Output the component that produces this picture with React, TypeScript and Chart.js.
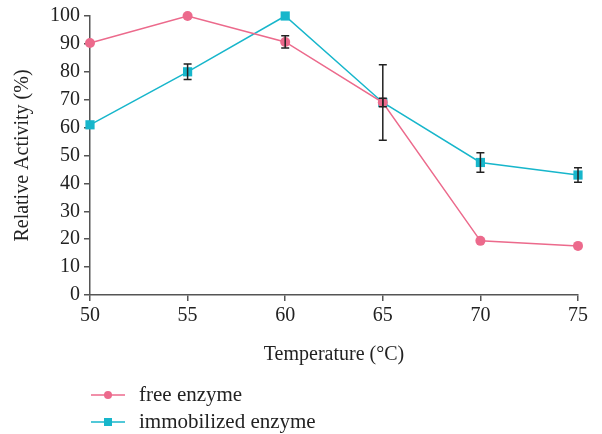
import React, { useEffect, useRef } from "react";
import { Chart, registerables } from "chart.js";

Chart.register(...registerables);

const temperatures = [50, 55, 60, 65, 70, 75];
const freeEnzyme = [90.3, 100, 90.7, 69, 19.4, 17.6];
const freeError = [0, 0, 2.2, 1.5, 0, 0];
const immobilizedEnzyme = [61, 80, 100, 69, 47.5, 43];
const immobilizedError = [0, 2.8, 0, 13.5, 3.5, 2.6];
const yTicks = [0, 10, 20, 30, 40, 50, 60, 70, 80, 90, 100];

const PINK = "#ec6a8c";
const CYAN = "#17b6cb";
const FONT = "'Liberation Serif', 'DejaVu Serif', serif";

const errorBarPlugin = {
  id: "errorBars",
  afterDatasetsDraw(chart: any) {
    const ctx = chart.ctx;
    const xs = chart.scales.x;
    const ys = chart.scales.y;
    const sets = [
      { vals: freeEnzyme, errs: freeError },
      { vals: immobilizedEnzyme, errs: immobilizedError },
    ];
    ctx.save();
    ctx.strokeStyle = "#222";
    ctx.lineWidth = 1.5;
    sets.forEach((s) => {
      s.vals.forEach((v, i) => {
        const e = s.errs[i];
        if (!e) return;
        const x = xs.getPixelForValue(temperatures[i]);
        const y1 = ys.getPixelForValue(v + e);
        const y2 = ys.getPixelForValue(v - e);
        ctx.beginPath();
        ctx.moveTo(x, y1);
        ctx.lineTo(x, y2);
        ctx.moveTo(x - 4, y1);
        ctx.lineTo(x + 4, y1);
        ctx.moveTo(x - 4, y2);
        ctx.lineTo(x + 4, y2);
        ctx.stroke();
      });
    });
    ctx.restore();
  },
};

const legendPlugin = {
  id: "customLegend",
  afterDraw(chart: any) {
    const ctx = chart.ctx;
    const items = [
      { label: "free enzyme", color: PINK, style: "circle" },
      { label: "immobilized enzyme", color: CYAN, style: "rect" },
    ];
    ctx.save();
    ctx.font = `21px ${FONT}`;
    ctx.textBaseline = "middle";
    items.forEach((it, i) => {
      const y = 395 + i * 27;
      const x0 = 91;
      ctx.strokeStyle = it.color;
      ctx.lineWidth = 1.5;
      ctx.beginPath();
      ctx.moveTo(x0, y);
      ctx.lineTo(x0 + 34, y);
      ctx.stroke();
      ctx.fillStyle = it.color;
      if (it.style === "circle") {
        ctx.beginPath();
        ctx.arc(x0 + 17, y, 4, 0, Math.PI * 2);
        ctx.fill();
      } else {
        ctx.fillRect(x0 + 13, y - 4, 8, 8);
      }
      ctx.fillStyle = "#222";
      ctx.fillText(it.label, x0 + 48, y);
    });
    ctx.restore();
  },
};

export default function App() {
  const ref = useRef<HTMLCanvasElement>(null);
  useEffect(() => {
    document.body.style.margin = "0";
    const chart = new Chart(ref.current!, {
      type: "line",
      data: {
        datasets: [
          {
            label: "free enzyme",
            data: temperatures.map((t, i) => ({ x: t, y: freeEnzyme[i] })),
            borderColor: PINK,
            backgroundColor: PINK,
            borderWidth: 1.5,
            pointStyle: "circle",
            pointRadius: 5,
            pointBorderWidth: 0,
            clip: false,
          },
          {
            label: "immobilized enzyme",
            data: temperatures.map((t, i) => ({ x: t, y: immobilizedEnzyme[i] })),
            borderColor: CYAN,
            backgroundColor: CYAN,
            borderWidth: 1.5,
            pointStyle: "rect",
            pointRadius: 6.5,
            pointBorderWidth: 0,
            clip: false,
          },
        ],
      },
      options: {
        animation: false,
        responsive: true,
        maintainAspectRatio: false,
        layout: { padding: { top: 16, right: 24, bottom: 67, left: 11 } },
        plugins: {
          legend: { display: false },
          tooltip: { enabled: false },
        },
        scales: {
          x: {
            type: "linear",
            min: 50,
            max: 75,
            afterBuildTicks: (axis: any) => {
              axis.ticks = temperatures.map((v) => ({ value: v }));
            },
            afterFit: (axis: any) => {
              axis.height = 72;
            },
            grid: {
              display: true,
              drawOnChartArea: false,
              drawTicks: true,
              tickLength: 6,
              color: "#555",
              lineWidth: 1.5,
            },
            border: { color: "#555", width: 1.5 },
            ticks: {
              color: "#222",
              font: { family: FONT, size: 20 },
              padding: 3,
              maxRotation: 0,
            },
            title: {
              display: true,
              text: "Temperature (°C)",
              color: "#222",
              font: { family: FONT, size: 20 },
              padding: 0,
            },
          },
          y: {
            min: 0,
            max: 100,
            afterBuildTicks: (axis: any) => {
              axis.ticks = yTicks.map((v) => ({ value: v }));
            },
            afterFit: (axis: any) => {
              axis.width = 79;
            },
            grid: {
              display: true,
              drawOnChartArea: false,
              drawTicks: true,
              tickLength: 6,
              color: "#555",
              lineWidth: 1.5,
            },
            border: { color: "#555", width: 1.5 },
            ticks: {
              color: "#222",
              font: { family: FONT, size: 20 },
              padding: 4,
            },
            title: {
              display: true,
              text: "Relative Activity (%)",
              color: "#222",
              font: { family: FONT, size: 20 },
              padding: 0,
            },
          },
        },
      },
      plugins: [errorBarPlugin, legendPlugin],
    } as any);
    return () => chart.destroy();
  }, []);
  return (
    <div style={{ position: "absolute", left: 0, top: 0, width: 602, height: 434 }}>
      <canvas ref={ref} />
    </div>
  );
}
